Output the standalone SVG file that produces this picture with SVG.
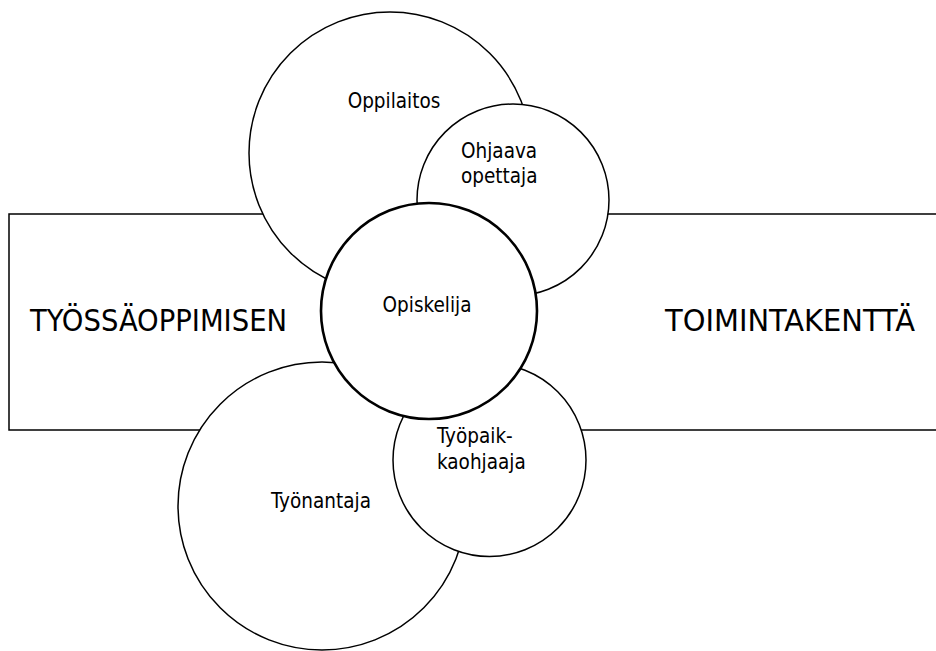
<svg xmlns="http://www.w3.org/2000/svg" width="936" height="651" viewBox="0 0 936 651">
  <style>
    .shape { fill: #ffffff; stroke: #000000; stroke-width: 1.5; }
    .core { stroke-width: 2.6; }
    .label { font-family: "DejaVu Sans Condensed", "DejaVu Sans", sans-serif; font-stretch: condensed; font-size: 20.5px; fill: #000000; }
    .big { font-size: 31px; }
  </style>
  <rect width="936" height="651" fill="#ffffff"/>

  <!-- field of activity: open band running off the right edge -->
  <g id="field">
    <rect class="shape" x="9" y="214" width="960" height="216"/>
    <text class="label big" x="30" y="331" textLength="257" lengthAdjust="spacingAndGlyphs">TYÖSSÄOPPIMISEN</text>
    <text class="label big" x="665" y="331" textLength="250" lengthAdjust="spacingAndGlyphs">TOIMINTAKENTTÄ</text>
  </g>

  <g id="oppilaitos">
    <circle class="shape" cx="390" cy="153" r="141"/>
    <text class="label" x="394" y="108" text-anchor="middle">Oppilaitos</text>
  </g>

  <g id="ohjaava-opettaja">
    <circle class="shape" cx="513" cy="200" r="96"/>
    <text class="label" x="461" y="158">Ohjaava</text>
    <text class="label" x="461" y="183">opettaja</text>
  </g>

  <g id="tyonantaja">
    <circle class="shape" cx="322" cy="506" r="144"/>
    <text class="label" x="321" y="508" text-anchor="middle">Työnantaja</text>
  </g>

  <g id="tyopaikkaohjaaja">
    <circle class="shape" cx="489.5" cy="460" r="96.5"/>
    <text class="label" x="437" y="443">Työpaik-</text>
    <text class="label" x="437" y="469">kaohjaaja</text>
  </g>

  <g id="opiskelija">
    <circle class="shape core" cx="429" cy="311" r="108"/>
    <text class="label" x="427" y="312" text-anchor="middle">Opiskelija</text>
  </g>

  <!-- the diagram has no connectors -->
  <g id="connectors"/>
</svg>
